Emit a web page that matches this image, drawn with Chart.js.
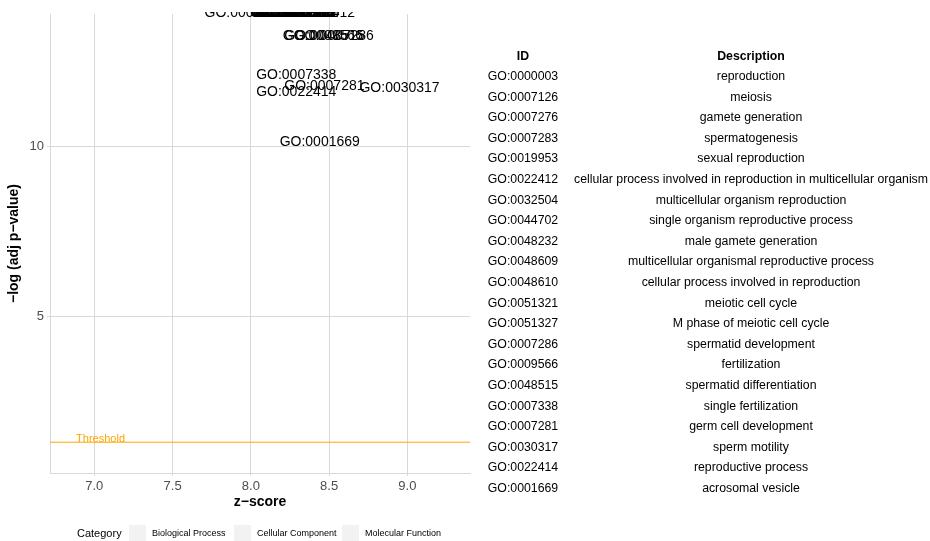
<!DOCTYPE html>
<html>
<head>
<meta charset="utf-8">
<script src="https://cdn.jsdelivr.net/npm/chart.js@4/dist/chart.umd.min.js"></script>
<style>
  html, body { margin: 0; padding: 0; background: #ffffff; }
  #wrap { position: relative; width: 930px; height: 541px; overflow: hidden;
          font-family: "Liberation Sans", Arial, Helvetica, sans-serif; color: #000; }
  #plot { position: absolute; left: 0; top: 0; }
  .cell { position: absolute; white-space: nowrap; transform: translate(-50%, -50%); font-size: 12.3px; }
  .head { font-weight: bold; }
  .leg { position: absolute; white-space: nowrap; transform: translateY(-50%); }
  .key { position: absolute; width: 17px; height: 17px; background: #f2f2f2; }
</style>
</head>
<body>
<div id="wrap">
  <canvas id="plot" width="930" height="541"></canvas>
  <div id="table"></div>
  <div id="legend"></div>
</div>
<script>
// GO terms, their descriptions and enrichment statistics
const goIds = [
  "GO:0000003", "GO:0007126", "GO:0007276", "GO:0007283", "GO:0019953",
  "GO:0022412", "GO:0032504", "GO:0044702", "GO:0048232", "GO:0048609",
  "GO:0048610", "GO:0051321", "GO:0051327", "GO:0007286", "GO:0009566",
  "GO:0048515", "GO:0007338", "GO:0007281", "GO:0030317", "GO:0022414",
  "GO:0001669"
];
const descriptions = [
  "reproduction", "meiosis", "gamete generation", "spermatogenesis", "sexual reproduction",
  "cellular process involved in reproduction in multicellular organism",
  "multicellular organism reproduction", "single organism reproductive process",
  "male gamete generation", "multicellular organismal reproductive process",
  "cellular process involved in reproduction", "meiotic cell cycle",
  "M phase of meiotic cell cycle", "spermatid development", "fertilization",
  "spermatid differentiation", "single fertilization", "germ cell development",
  "sperm motility", "reproductive process", "acrosomal vesicle"
];
const zScores = [
  8.27, 7.96, 8.28, 8.29, 8.26,
  8.41, 8.28, 8.25, 8.30, 8.27,
  8.31, 8.26, 8.29, 8.53, 8.46,
  8.47, 8.29, 8.47, 8.95, 8.29,
  8.44
];
const negLogAdjP = [
  13.92, 13.92, 13.92, 13.92, 13.92,
  13.92, 13.92, 13.92, 13.92, 13.92,
  13.92, 13.92, 13.92, 13.26, 13.26,
  13.26, 12.09, 11.77, 11.71, 11.60,
  10.13
];

const xTickValues = [7.0, 7.5, 8.0, 8.5, 9.0];
const yTickValues = [5, 10];
const threshold = 1.3;          // -log10(0.05)
const thresholdLabelZ = 7.04;
const thresholdLabelOffset = 0.1;
const categories = ["Biological Process", "Cellular Component", "Molecular Function"];

const FONT = '"Liberation Sans", Arial, Helvetica, sans-serif';
Chart.defaults.font.family = FONT;

const points = goIds.map((id, i) => ({ x: zScores[i], y: negLogAdjP[i], id: id }));

// orange significance line with its caption
const thresholdPlugin = {
  id: 'thresholdLine',
  beforeDatasetsDraw(chart) {
    const { ctx, chartArea, scales } = chart;
    const y = scales.y.getPixelForValue(threshold);
    ctx.save();
    ctx.strokeStyle = '#FFA500';
    ctx.lineWidth = 1;
    ctx.beginPath();
    ctx.moveTo(chartArea.left, y);
    ctx.lineTo(chartArea.right, y);
    ctx.stroke();
    ctx.fillStyle = '#FFA500';
    ctx.font = '11px ' + FONT;
    ctx.textAlign = 'center';
    ctx.textBaseline = 'middle';
    ctx.fillText('Threshold', scales.x.getPixelForValue(thresholdLabelZ),
                 scales.y.getPixelForValue(threshold + thresholdLabelOffset));
    ctx.restore();
  }
};

// GO id written at each term's position, clipped to the panel
const termLabelPlugin = {
  id: 'termLabels',
  afterDatasetsDraw(chart) {
    const { ctx, chartArea } = chart;
    const meta = chart.getDatasetMeta(0);
    ctx.save();
    ctx.beginPath();
    ctx.rect(chartArea.left, chartArea.top - 2, chartArea.right - chartArea.left,
             chartArea.bottom - chartArea.top + 2);
    ctx.clip();
    ctx.fillStyle = '#000000';
    ctx.font = '14px ' + FONT;
    ctx.textAlign = 'center';
    ctx.textBaseline = 'middle';
    meta.data.forEach((el, i) => {
      ctx.fillText(points[i].id, el.x, el.y);
    });
    ctx.restore();
  }
};

new Chart(document.getElementById('plot'), {
  type: 'scatter',
  data: {
    datasets: [{
      data: points,
      pointRadius: 0,
      pointHoverRadius: 0,
      backgroundColor: 'rgba(0,0,0,0)',
      borderColor: 'rgba(0,0,0,0)'
    }]
  },
  options: {
    responsive: false,
    animation: false,
    events: [],
    layout: { padding: { top: 14, right: 460, bottom: 28, left: 0 } },
    plugins: { legend: { display: false }, tooltip: { enabled: false } },
    scales: {
      x: {
        type: 'linear',
        min: 6.717,
        max: 9.40,
        afterBuildTicks: s => { s.ticks = xTickValues.map(v => ({ value: v })); },
        afterFit: s => { s.height = 40; },
        ticks: {
          callback: v => Number(v).toFixed(1),
          color: '#4d4d4d',
          font: { size: 13 },
          padding: 3,
          maxRotation: 0,
          autoSkip: false
        },
        grid: { color: '#d9d9d9', lineWidth: 1, tickLength: 3 },
        border: { color: '#d9d9d9', width: 1 },
        title: {
          display: true,
          text: 'z\u2212score',
          color: '#000000',
          font: { size: 14, weight: 'bold' },
          padding: { top: 0, bottom: 2 }
        }
      },
      y: {
        type: 'linear',
        min: 0.394,
        max: 13.90,
        afterBuildTicks: s => { s.ticks = yTickValues.map(v => ({ value: v })); },
        afterFit: s => { s.width = 50; },
        ticks: {
          color: '#4d4d4d',
          font: { size: 13 },
          padding: 3,
          autoSkip: false
        },
        grid: { color: '#d9d9d9', lineWidth: 1, tickLength: 3 },
        border: { color: '#d9d9d9', width: 1 },
        title: {
          display: true,
          text: '\u2212log (adj p\u2212value)',
          color: '#000000',
          font: { size: 14, weight: 'bold' },
          padding: { top: 6, bottom: 0 }
        }
      }
    }
  },
  plugins: [thresholdPlugin, termLabelPlugin]
});

// term table to the right of the panel
const table = document.getElementById('table');
function addCell(text, x, y, cls) {
  const d = document.createElement('div');
  d.className = 'cell' + (cls ? ' ' + cls : '');
  d.style.left = x + 'px';
  d.style.top = y + 'px';
  d.textContent = text;
  table.appendChild(d);
}
const idColX = 523, descColX = 751, headY = 56, firstRowY = 76, rowStep = 20.6;
addCell('ID', idColX, headY, 'head');
addCell('Description', descColX, headY, 'head');
goIds.forEach((id, i) => {
  addCell(id, idColX, firstRowY + i * rowStep);
  addCell(descriptions[i], descColX, firstRowY + i * rowStep);
});

// category legend along the bottom
const legend = document.getElementById('legend');
const legY = 533;
const title = document.createElement('div');
title.className = 'leg';
title.style.cssText = 'left:77px;top:' + legY + 'px;font-size:11px;';
title.textContent = 'Category';
legend.appendChild(title);
const keyX = [129, 234, 342];
categories.forEach((c, i) => {
  const k = document.createElement('div');
  k.className = 'key';
  k.style.left = keyX[i] + 'px';
  k.style.top = (legY - 8) + 'px';
  legend.appendChild(k);
  const t = document.createElement('div');
  t.className = 'leg';
  t.style.cssText = 'left:' + (keyX[i] + 23) + 'px;top:' + legY + 'px;font-size:9px;';
  t.textContent = c;
  legend.appendChild(t);
});
</script>
</body>
</html>
